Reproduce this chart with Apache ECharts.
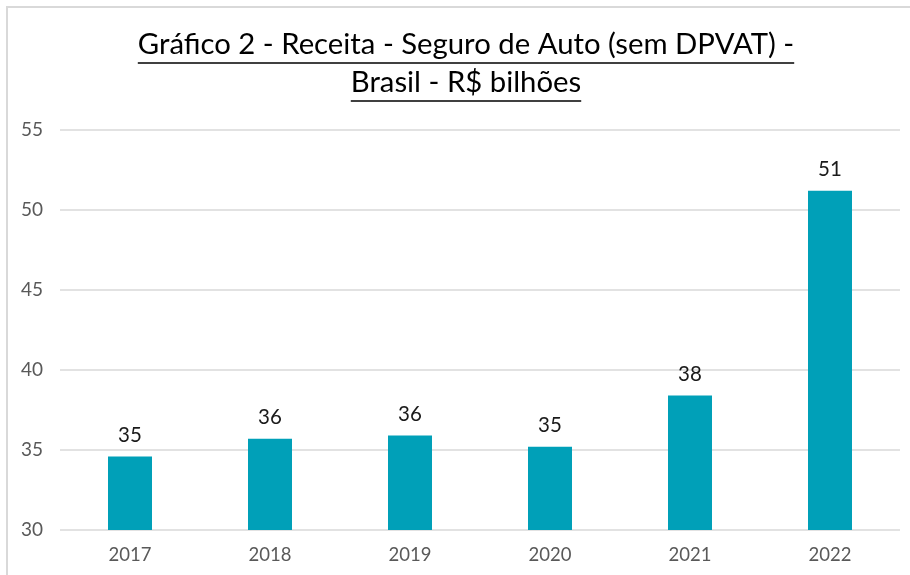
<!DOCTYPE html>
<html>
<head>
<meta charset="utf-8">
<script src="https://cdn.jsdelivr.net/npm/echarts@6/dist/echarts.min.js"></script>
<style>
  html, body { margin: 0; padding: 0; background: #fff; }
  #chart { width: 910px; height: 575px; }
</style>
</head>
<body>
<div id="chart"></div>
<script>
const years = ["2017", "2018", "2019", "2020", "2021", "2022"];
const receita = [34.6, 35.7, 35.9, 35.2, 38.4, 51.2];
const titleLines = ["Gráfico 2 - Receita - Seguro de Auto (sem DPVAT) -", "Brasil - R$ bilhões"];

const font = "Lato, 'Open Sans', sans-serif";
const titleSize = 29.3;

// underline widths measured from the rendered font
const measure = document.createElement("canvas").getContext("2d");
measure.font = `${titleSize}px ${font}`;
const titleX = 466;
const lineY = [45, 83];
const underlines = titleLines.map((text, i) => {
  const w = measure.measureText(text).width;
  return {
    type: "line",
    shape: { x1: titleX - w / 2, y1: lineY[i] + 18, x2: titleX + w / 2, y2: lineY[i] + 18 },
    style: { stroke: "#000", lineWidth: 1.5 },
  };
});

const chart = echarts.init(document.getElementById("chart"), null, { renderer: "canvas" });
chart.setOption({
  animation: false,
  textStyle: { fontFamily: font },
  graphic: [
    {
      type: "rect",
      shape: { x: 7, y: 7, width: 920, height: 600 },
      style: { fill: "none", stroke: "#d9d9d9", lineWidth: 2 },
    },
    ...titleLines.map((text, i) => ({
      type: "text",
      x: titleX,
      y: lineY[i],
      style: {
        text,
        fill: "#000",
        font: `${titleSize}px ${font}`,
        textAlign: "center",
        textVerticalAlign: "middle",
      },
    })),
    ...underlines,
  ],
  grid: { left: 60, right: 10, top: 130, bottom: 45 },
  xAxis: {
    type: "category",
    data: years,
    axisLine: { show: false },
    axisTick: { show: false },
    axisLabel: { color: "#595959", fontSize: 18.5, margin: 16 },
  },
  yAxis: {
    type: "value",
    min: 30,
    max: 55,
    interval: 5,
    axisLine: { show: false },
    axisTick: { show: false },
    axisLabel: { color: "#595959", fontSize: 19, margin: 17 },
    splitLine: { lineStyle: { color: "#d9d9d9", width: 1.5 } },
  },
  series: [{
    type: "bar",
    data: receita,
    barWidth: 44,
    itemStyle: { color: "#00a0b8" },
    label: {
      show: true,
      position: "top",
      distance: 11,
      color: "#1a1a1a",
      fontSize: 20.5,
      formatter: (p) => Math.round(p.value),
    },
  }],
});
</script>
</body>
</html>
